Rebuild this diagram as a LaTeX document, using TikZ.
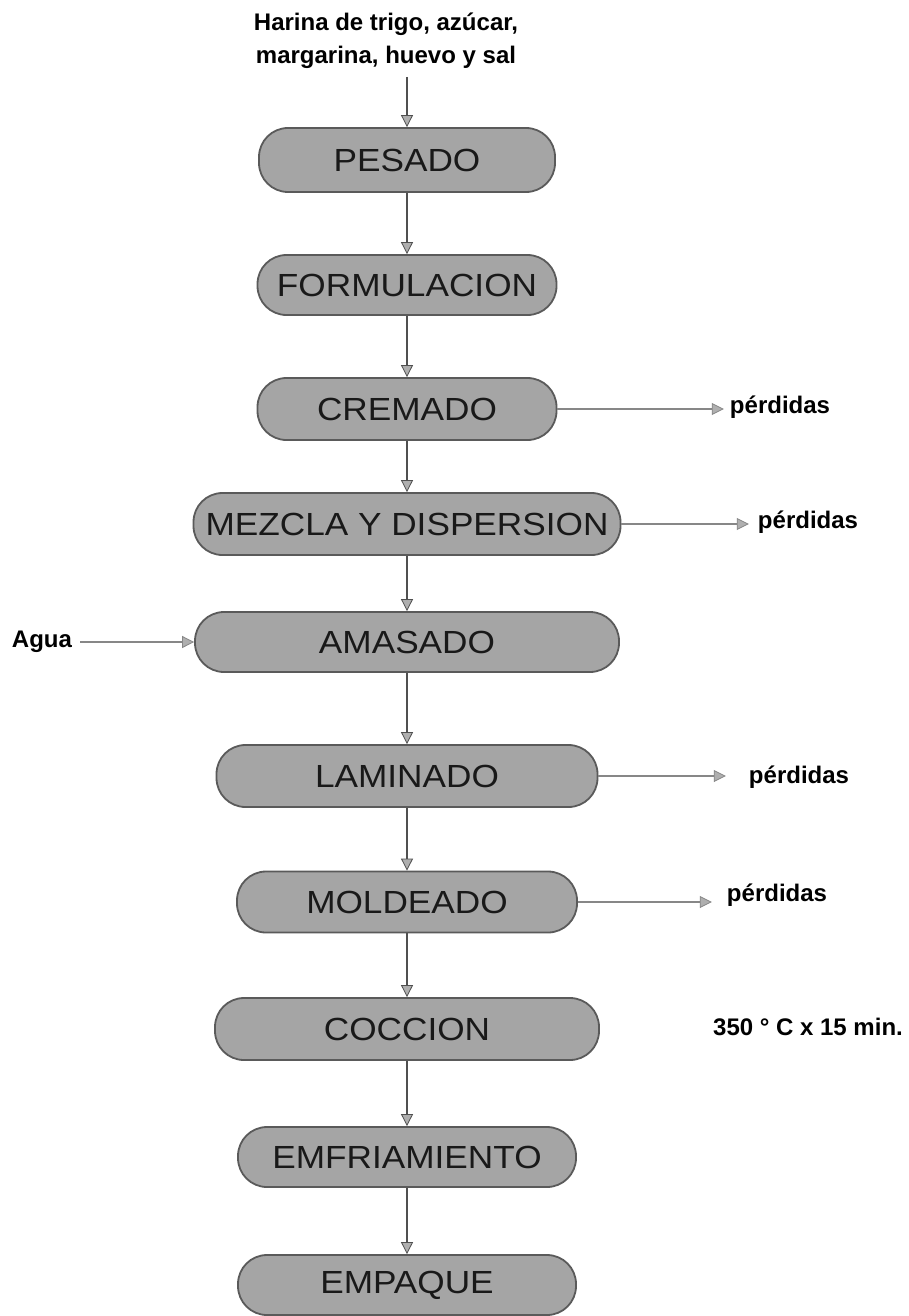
\documentclass[tikz,border=0pt]{standalone}
\usepackage{fontspec}
\setmainfont{Liberation Sans}
\newfontfamily\boxfont[FakeStretch=1.1]{Liberation Sans}
\usetikzlibrary{arrows.meta}
\definecolor{boxfill}{RGB}{165,165,165}
\definecolor{boxline}{RGB}{90,90,90}
\definecolor{vline}{RGB}{80,80,80}
\definecolor{hline}{RGB}{135,135,135}
\definecolor{headfill}{RGB}{175,175,175}
\definecolor{boxtext}{RGB}{25,25,25}
\begin{document}
\begin{tikzpicture}[x=1pt,y=-1pt,
  proc/.style={draw=boxline, line width=1.8pt, fill=boxfill, rounded corners=29pt,
    inner sep=0pt, text=boxtext, font=\boxfont\fontsize{32}{36}\selectfont},
  lbl/.style={inner sep=0pt, font=\bfseries\fontsize{24}{33}\selectfont, text=black},
  varr/.style={draw=vline, line width=1.3pt,
    -{Triangle[width=12pt,length=12pt,fill=headfill,line width=0.8pt]}},
  harr/.style={draw=hline, line width=1.3pt,
    -{Triangle[width=12pt,length=12pt,fill=headfill,line width=0.8pt]}}]
\useasboundingbox (0,0) rectangle (908,1316);
\fill[white] (0,0) rectangle (908,1316);

% header
\node[lbl, align=center] (harina) at (386,41) {Harina de trigo, azúcar,\\margarina, huevo y sal};
\coordinate (hin) at (407,77);

% process boxes
\node[proc, minimum width=296pt, minimum height=64pt] (pesado) at (407,160) {PESADO};
\node[proc, minimum width=299pt, minimum height=60pt] (formul) at (407,285) {FORMULACION};
\node[proc, minimum width=299pt, minimum height=62pt] (cremado) at (407,409) {CREMADO};
\node[proc, minimum width=427pt, minimum height=62pt] (mezcla) at (407,524) {MEZCLA Y DISPERSION};
\node[proc, minimum width=424pt, minimum height=60pt] (amasado) at (407,642) {AMASADO};
\node[proc, minimum width=381pt, minimum height=62pt] (laminado) at (407,776) {LAMINADO};
\node[proc, minimum width=340pt, minimum height=61pt] (moldeado) at (407,902) {MOLDEADO};
\node[proc, minimum width=384pt, minimum height=62pt] (coccion) at (407,1029) {COCCION};
\node[proc, minimum width=338pt, minimum height=60pt] (enfri) at (407,1157) {EMFRIAMIENTO};
\node[proc, minimum width=338pt, minimum height=60pt] (empaque) at (407,1285) {EMPAQUE};

% side labels
\node[lbl] (p1) at (780,407) {pérdidas};
\node[lbl] (p2) at (808,522) {pérdidas};
\node[lbl] (p3) at (799,777) {pérdidas};
\node[lbl] (p4) at (777,895) {pérdidas};
\node[lbl] (agua) at (42,642) {Agua};
\node[lbl] (temp) at (808,1027) {350 ° C x 15 min.};

% vertical flow
\draw[varr] (hin) -- (pesado);
\draw[varr] (pesado) -- (formul);
\draw[varr] (formul) -- (cremado);
\draw[varr] (cremado) -- (mezcla);
\draw[varr] (mezcla) -- (amasado);
\draw[varr] (amasado) -- (laminado);
\draw[varr] (laminado) -- (moldeado);
\draw[varr] (moldeado) -- (coccion);
\draw[varr] (coccion) -- (enfri);
\draw[varr] (enfri) -- (empaque);

% side flows
\draw[harr, shorten >=6pt] (cremado.east) -- (cremado.east -| p1.west);
\draw[harr, shorten >=9pt] (mezcla.east) -- (mezcla.east -| p2.west);
\draw[harr, shorten >=23pt] (laminado.east) -- (laminado.east -| p3.west);
\draw[harr, shorten >=15pt] (moldeado.east) -- (moldeado.east -| p4.west);
\draw[harr, shorten <=8pt] (agua.east) -- (amasado.west);
\end{tikzpicture}
\end{document}
